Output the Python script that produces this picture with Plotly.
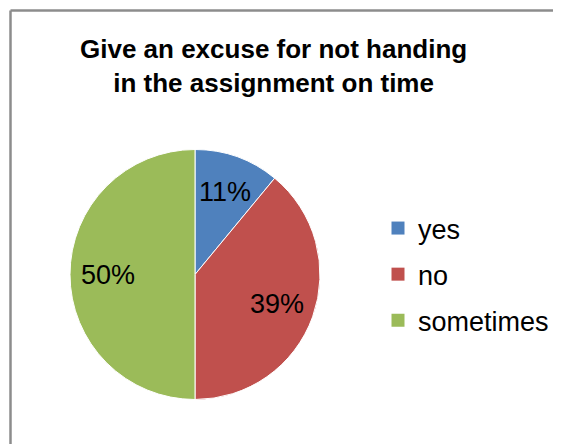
import math
import plotly.graph_objects as go

title_text = "Give an excuse for not handing<br>in the assignment on time"
categories = ["yes", "no", "sometimes"]
values = [11, 39, 50]
colors = ["#4F81BD", "#C0504D", "#9BBB59"]

OFF = 8  # default page body margin
W, H = 561 - OFF, 444 - OFF
FONT = "Liberation Sans, Arial, sans-serif"

# pie geometry (pixels in the figure)
cx, cy, R = 195 - OFF, 274.5 - OFF, 125

fig = go.Figure()
fig.add_trace(go.Pie(
    labels=categories, values=values, sort=False, direction="clockwise", rotation=0,
    marker=dict(colors=colors, line=dict(color="white", width=1)),
    textinfo="none",
    domain=dict(x=[(cx - R) / W, (cx + R) / W], y=[(H - cy - R) / H, (H - cy + R) / H]),
    showlegend=False,
))

# data labels at 0.7 radius on each slice's mid-angle
total = sum(values)
annotations = []
cum = 0
for v in values:
    mid = (cum + v / 2) / total * 2 * math.pi
    cum += v
    px = cx + 0.7 * R * math.sin(mid)
    py = cy - 0.7 * R * math.cos(mid)
    annotations.append(dict(
        text=f"{round(v / total * 100)}%", x=px / W, y=(H - py) / H,
        xref="paper", yref="paper", xanchor="center", yanchor="middle",
        showarrow=False, font=dict(family=FONT, size=27, color="black"),
    ))

# legend entries
for c, col in zip(categories, colors):
    fig.add_trace(go.Scatter(
        x=[None], y=[None], mode="markers", name=c, legendgroup=c,
        marker=dict(symbol="square", size=13, color=col),
    ))

annotations.append(dict(
    text="<b>" + title_text + "</b>", x=(273 - OFF) / W, y=(H - (66 - OFF)) / H,
    xref="paper", yref="paper", xanchor="center", yanchor="middle",
    showarrow=False, font=dict(family=FONT, size=26, color="black"),
))

bx, by = 10.5 - OFF, 10.5 - OFF
fig.update_layout(
    width=W, height=H,
    margin=dict(l=0, r=0, t=0, b=0),
    paper_bgcolor="white", plot_bgcolor="white",
    xaxis=dict(visible=False), yaxis=dict(visible=False),
    legend=dict(
        x=(378 - OFF) / W, y=(H - (204 - OFF)) / H, xanchor="left", yanchor="top",
        font=dict(family=FONT, size=27, color="black"),
        tracegroupgap=8, itemwidth=30, bgcolor="rgba(0,0,0,0)",
    ),
    annotations=annotations,
    shapes=[
        dict(type="line", xref="paper", yref="paper", x0=bx / W, x1=1, y0=(H - by) / H, y1=(H - by) / H,
             line=dict(color="#8C8C8C", width=2.5)),
        dict(type="line", xref="paper", yref="paper", x0=bx / W, x1=bx / W, y0=0, y1=(H - by) / H,
             line=dict(color="#8C8C8C", width=2.5)),
    ],
)

fig.write_html("out.html")
